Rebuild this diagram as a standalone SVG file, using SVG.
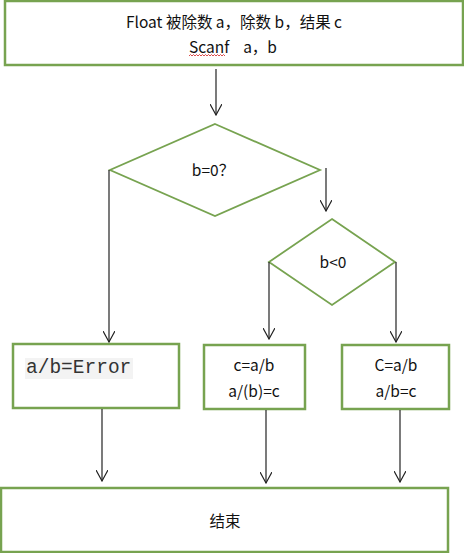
<svg xmlns="http://www.w3.org/2000/svg" width="464" height="553" viewBox="0 0 464 553">
<style>
.box{fill:#fff;stroke:#77a350;stroke-width:2.5}
.dia{fill:#fff;stroke:#77a350;stroke-width:1.8}
.t{font-family:"Noto Sans CJK SC","Liberation Sans",sans-serif;font-size:15.5px;fill:#111;text-anchor:middle}
.m{font-family:"Liberation Mono",monospace;font-size:19.5px;fill:#333}
.c{stroke:#222;stroke-width:1.2;fill:none}
</style>
<defs>
<marker id="ah" viewBox="0 0 12 12" refX="11" refY="6" markerWidth="12" markerHeight="12" markerUnits="userSpaceOnUse" orient="auto">
<path d="M0,0 L11,6 L0,12" fill="none" stroke="#222" stroke-width="1.2"/>
</marker>
</defs>
<rect width="464" height="553" fill="#fff"/>
<g id="start">
<rect class="box" x="5" y="1" width="458" height="64"/>
<text class="t" x="234" y="28">Float  被除数 a，除数 b，结果 c</text>
<text class="t" x="233" y="53" xml:space="preserve">Scanf    a，b</text>
<path d="M189,56 l1.5,-1.5 l1.5,1.5 l1.5,-1.5 l1.5,1.5 l1.5,-1.5 l1.5,1.5 l1.5,-1.5 l1.5,1.5 l1.5,-1.5 l1.5,1.5 l1.5,-1.5 l1.5,1.5 l1.5,-1.5 l1.5,1.5 l1.5,-1.5 l1.5,1.5 l1.5,-1.5 l1.5,1.5 l1.5,-1.5 l1.5,1.5 l1.5,-1.5 l1.5,1.5 l1.5,-1.5 l1.5,1.5" fill="none" stroke="#d02020" stroke-width="0.8"/>
</g>
<g id="dec1">
<polygon class="dia" points="215,124 320,170 215,216 110,170"/>
<text class="t" x="213" y="176">b=0？</text>
</g>
<g id="dec2">
<polygon class="dia" points="332,219 395,262 332,305 269,262"/>
<text class="t" x="333" y="268">b&lt;0</text>
</g>
<g id="err">
<rect class="box" x="13" y="344" width="166" height="64"/>
<rect x="25" y="358" width="108" height="21" fill="#f3f3f3"/>
<text class="m" x="26" y="373">a/b=Error</text>
</g>
<g id="neg">
<rect class="box" x="204" y="345" width="101" height="64"/>
<text class="t" x="254" y="371">c=a/b</text>
<text class="t" x="254" y="397">a/(b)=c</text>
</g>
<g id="pos">
<rect class="box" x="342" y="345" width="107" height="64"/>
<text class="t" x="396" y="371">C=a/b</text>
<text class="t" x="396" y="397">a/b=c</text>
</g>
<g id="end">
<rect class="box" x="1" y="488" width="447" height="64"/>
<text class="t" x="225" y="527">结束</text>
</g>
<g id="connectors">
<path class="c" d="M216,69 V115" marker-end="url(#ah)"/>
<path class="c" d="M109,170 V342" marker-end="url(#ah)"/>
<path class="c" d="M326,168 V211" marker-end="url(#ah)"/>
<path class="c" d="M269,262 V339" marker-end="url(#ah)"/>
<path class="c" d="M396,262 V342" marker-end="url(#ah)"/>
<path class="c" d="M102,409 V481" marker-end="url(#ah)"/>
<path class="c" d="M266,410 V483" marker-end="url(#ah)"/>
<path class="c" d="M400,410 V482" marker-end="url(#ah)"/>
</g>
</svg>
